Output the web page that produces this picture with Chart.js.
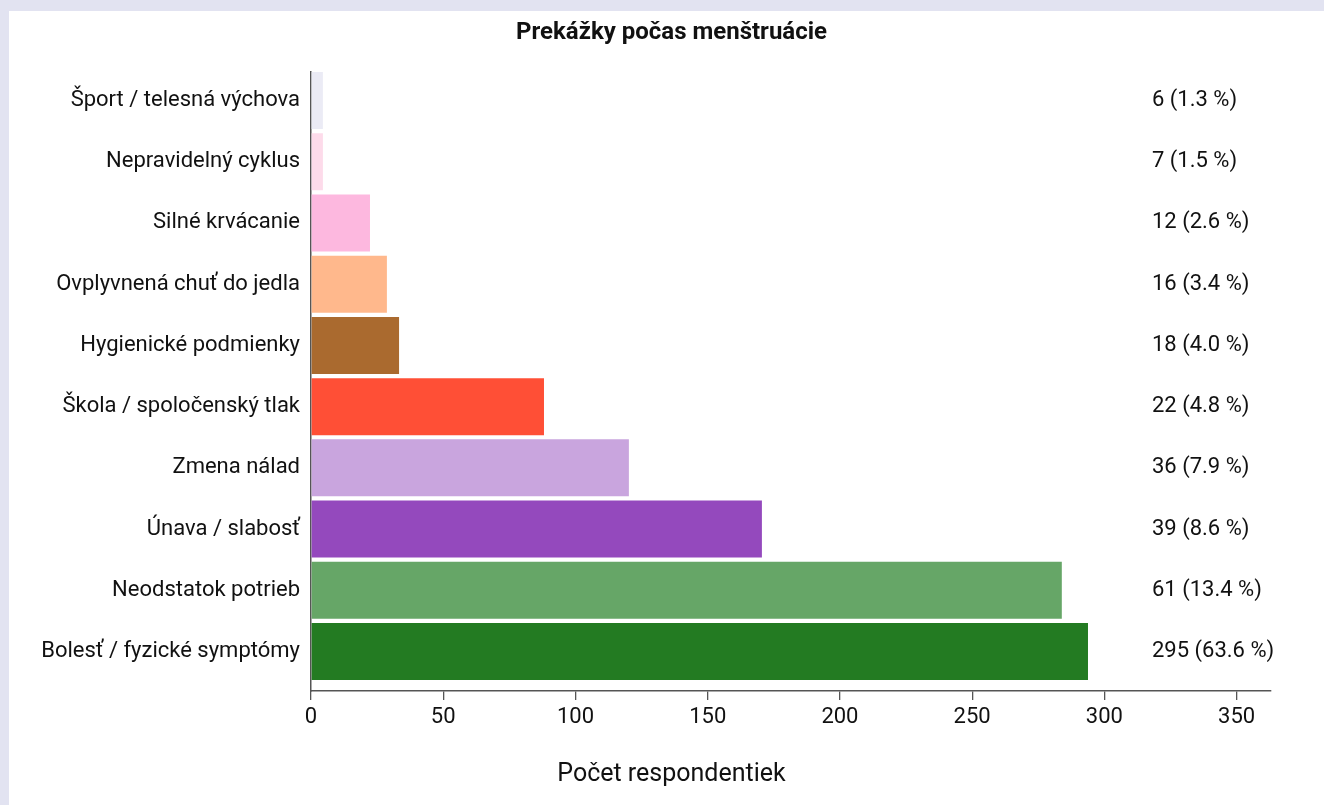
<!DOCTYPE html>
<html>
<head>
<meta charset="utf-8">
<script src="https://cdn.jsdelivr.net/npm/chart.js@4/dist/chart.umd.min.js"></script>
<style>
  html, body { margin: 0; padding: 0; background: #e2e3f1; }
  #panel { position: absolute; left: 9px; top: 11px; width: 1315px; height: 794px; background: #fff; }
  canvas { display: block; }
</style>
</head>
<body>
<div id="panel"><canvas id="chart" width="1315" height="794"></canvas></div>
<script>
// categories, top to bottom
const categories = ['Šport / telesná výchova', 'Nepravidelný cyklus', 'Silné krvácanie', 'Ovplyvnená chuť do jedla',
    'Hygienické podmienky', 'Škola / spoločenský tlak', 'Zmena nálad', 'Únava / slabosť', 'Neodstatok potrieb',
    'Bolesť / fyzické symptómy'];
// bar lengths as drawn
const barValues = [4.5, 4.5, 22.3, 28.7, 33.3, 88.1, 120.2, 170.5, 283.9, 293.8];
// annotations on the right
const valueLabels = ['6 (1.3 %)', '7 (1.5 %)', '12 (2.6 %)', '16 (3.4 %)', '18 (4.0 %)', '22 (4.8 %)',
    '36 (7.9 %)', '39 (8.6 %)', '61 (13.4 %)', '295 (63.6 %)'];
const barColors = ['#ebebf5', '#fddbea', '#fdb8df', '#ffb88c', '#aa6a2f', '#ff4f36', '#c9a5de', '#9449bd', '#66a667', '#237b22'];
const xTicks = [0, 50, 100, 150, 200, 250, 300, 350];

const FONT = 'Roboto';

// title, axis title and right-side labels
const textPlugin = {
    id: 'texts',
    afterDatasetsDraw(chart) {
        const ctx = chart.ctx;
        const x = chart.scales.x, y = chart.scales.y;
        ctx.save();
        ctx.fillStyle = '#111';
        ctx.textBaseline = 'middle';
        ctx.textAlign = 'left';
        ctx.font = '22px ' + FONT;
        valueLabels.forEach((t, i) => {
            ctx.fillText(t, x.getPixelForValue(318), y.getPixelForValue(i));
        });
        ctx.textAlign = 'center';
        ctx.font = 'bold 24px ' + FONT;
        ctx.fillText('Prekážky počas menštruácie', chart.width / 2 + 5, 22);
        ctx.font = '25px ' + FONT;
        ctx.fillText('Počet respondentiek', chart.width / 2 + 5, 764);
        ctx.restore();
    }
};

const ctx = document.getElementById('chart').getContext('2d');
new Chart(ctx, {
    type: 'bar',
    data: {
        datasets: [{
            data: barValues.map((v, i) => ({ x: v, y: i })),
            backgroundColor: barColors,
            borderWidth: 0,
            barPercentage: 0.931,
            categoryPercentage: 1
        }]
    },
    options: {
        indexAxis: 'y',
        responsive: false,
        animation: false,
        layout: { padding: { top: 61, right: 53, left: 0, bottom: 0 } },
        plugins: { legend: { display: false }, tooltip: { enabled: false } },
        scales: {
            x: {
                type: 'linear',
                bounds: 'data',
                min: 0,
                max: 363,
                afterFit: s => { s.height = 114; },
                afterBuildTicks: s => { s.ticks = xTicks.map(v => ({ value: v })); },
                grid: { drawOnChartArea: false, drawTicks: true, tickLength: 9, color: '#555', lineWidth: 1.3 },
                border: { display: true, color: '#555', width: 1.5 },
                ticks: { color: '#111', font: { family: FONT, size: 22 }, padding: 4, maxRotation: 0 }
            },
            y: {
                type: 'linear',
                bounds: 'data',
                offset: false,
                reverse: true,
                min: -0.466,
                max: 9.645,
                afterFit: s => { s.width = 302; },
                afterBuildTicks: s => { s.ticks = categories.map((c, i) => ({ value: i })); },
                grid: { display: false, offset: false },
                border: { display: true, color: '#555', width: 1.5 },
                ticks: { color: '#111', font: { family: FONT, size: 22 }, padding: 3, callback: v => categories[v] }
            }
        }
    },
    plugins: [textPlugin]
});
</script>
</body>
</html>
